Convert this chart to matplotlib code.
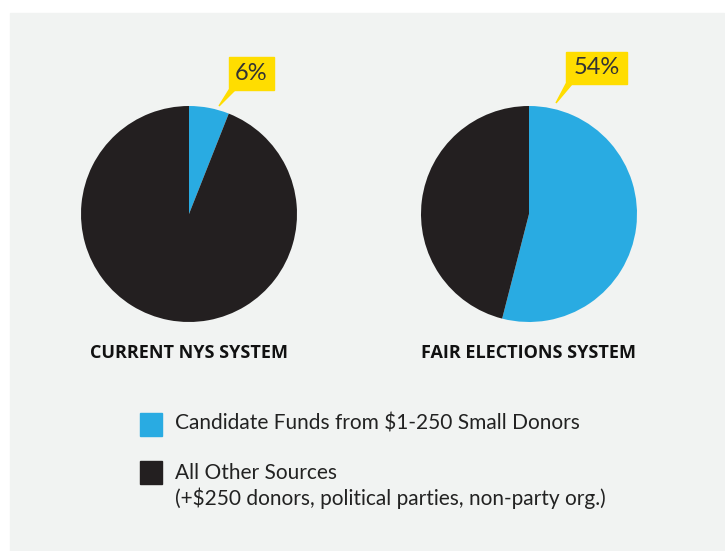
import matplotlib.pyplot as plt
from matplotlib.patches import Rectangle, Polygon

plt.rcParams['font.family'] = ['Lato', 'DejaVu Sans']

W, H = 725, 551

systems = ['CURRENT NYS SYSTEM', 'FAIR ELECTIONS SYSTEM']
small_donor_share = [6, 54]
other_share = [94, 46]
legend_labels = ['Candidate Funds from $1-250 Small Donors',
                 'All Other Sources\n(+$250 donors, political parties, non-party org.)']

BLUE = '#29abe2'
BLACK = '#231f20'
YELLOW = '#ffdd00'
BG = '#f1f3f2'


def y(v):
    # pixel row (from top) -> data y
    return H - v


fig = plt.figure(figsize=(W / 100, H / 100), dpi=100)
ax = fig.add_axes([0, 0, 1, 1])

# panel background
ax.add_patch(Rectangle((10, 0), 714, y(13), color=BG, zorder=0))

centers = [189, 529]
boxes = [(229, 57, 45, 33, (219, 106)), (566, 52, 61, 32, (556, 103))]

for i, name in enumerate(systems):
    cx = centers[i]
    ax.pie([small_donor_share[i], other_share[i]], colors=[BLUE, BLACK],
           center=(cx, y(214)), radius=108, startangle=90, counterclock=False,
           wedgeprops=dict(linewidth=0), frame=True)
    ax.text(cx, y(353), name, ha='center', va='center', fontsize=13,
            fontweight='bold', family=['Open Sans', 'DejaVu Sans'], color='#111111')

    # yellow callout
    bx, by, bw, bh, tip = boxes[i]
    ax.add_patch(Rectangle((bx, y(by + bh)), bw, bh, color=YELLOW, zorder=3))
    ax.add_patch(Polygon([(bx, y(by + bh)), (bx + 6, y(by + bh)), (tip[0], y(tip[1]))],
                         closed=True, color=YELLOW, zorder=3))
    ax.text(bx + bw / 2, y(by + bh / 2), f'{small_donor_share[i]}%', ha='center',
            va='center', fontsize=17, color='#333333', zorder=4)

ax.set_xlim(0, W)
ax.set_ylim(0, H)
ax.set_aspect('equal')
ax.axis('off')

# legend
ax.add_patch(Rectangle((140, y(436)), 22, 23, color=BLUE))
ax.text(175, y(424), legend_labels[0], ha='left', va='center', fontsize=15,
        color='#222222')
ax.add_patch(Rectangle((140, y(484)), 22, 23, color=BLACK))
ax.text(175, y(486), legend_labels[1], ha='left', va='center', fontsize=15,
        color='#222222', linespacing=1.3)

fig.savefig('out.png', dpi=100, facecolor='white')
